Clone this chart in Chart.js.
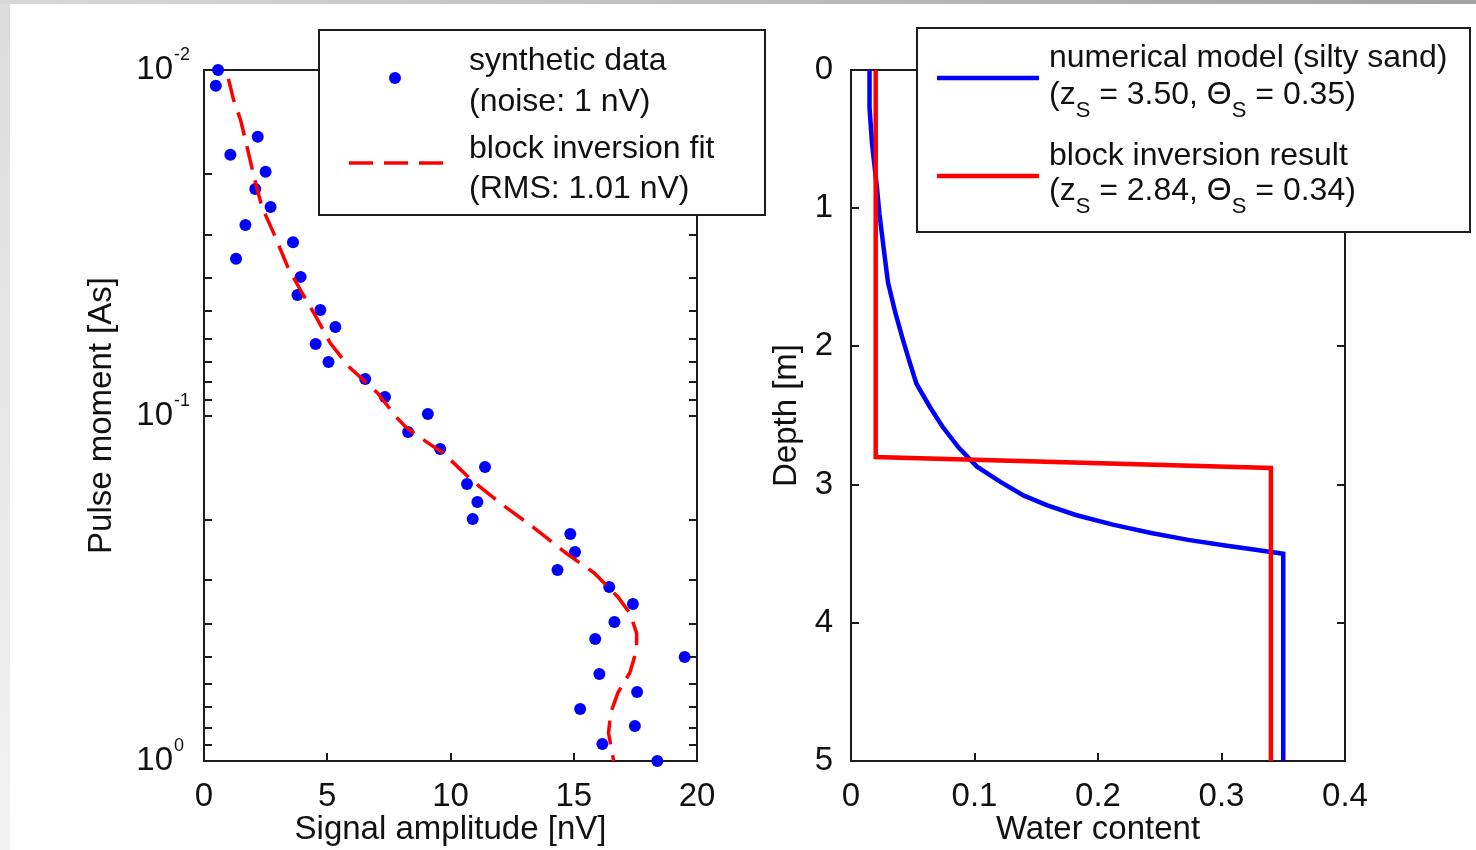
<!DOCTYPE html>
<html>
<head>
<meta charset="utf-8">
<title>SNMR block inversion</title>
<script src="https://cdn.jsdelivr.net/npm/chart.js@4.4.1/dist/chart.umd.min.js"></script>
<style>
  html, body { margin: 0; padding: 0; background: #fff; }
  #page { position: relative; width: 1476px; height: 850px; overflow: hidden; background: #fff; }
  #page canvas { position: absolute; left: 0; top: 0; }
  .edge-left { position: absolute; left: 0; top: 0; width: 10px; height: 850px; background: linear-gradient(to bottom, #dcdcdc, #f2f2f2); }
  .edge-top { position: absolute; left: 0; top: 0; width: 1476px; height: 4px; background: linear-gradient(to right, #d8d8d8, #a2a2a2); }
</style>
</head>
<body>
<div id="page">
  <div class="edge-left"></div>
  <div class="edge-top"></div>
  <canvas id="signalChart" width="1476" height="850"></canvas>
  <canvas id="profileChart" width="1476" height="850"></canvas>
</div>
<script>
const FONT = '"Liberation Sans", Arial, Helvetica, sans-serif';
Chart.defaults.font.family = FONT;
Chart.defaults.color = '#111';

// left panel: synthetic sounding curve (pulse moment [As] vs amplitude [nV])
const moments = [0.0100, 0.0111, 0.0156, 0.0176, 0.0197, 0.0221, 0.0249, 0.0281, 0.0315, 0.0352,
  0.0397, 0.0448, 0.0495, 0.0554, 0.0621, 0.0700, 0.0784, 0.0884, 0.0990, 0.1116,
  0.1250, 0.1410, 0.1579, 0.1780, 0.1993, 0.2203, 0.2484, 0.2801, 0.3136, 0.3512,
  0.3960, 0.4434, 0.5000, 0.5601, 0.6316, 0.7071, 0.7920, 0.8929, 1.0000];
const amplitudes = [0.57, 0.48, 2.18, 1.07, 2.50, 2.08, 2.70, 1.68, 3.61, 1.30,
  3.92, 3.79, 4.72, 5.33, 4.53, 5.05, 6.54, 7.34, 9.08, 8.28,
  9.58, 11.40, 10.67, 11.09, 10.90, 14.86, 15.05, 14.34, 16.44, 17.40,
  16.65, 15.87, 19.50, 16.04, 17.57, 15.26, 17.48, 16.16, 18.39];

const fitMoments = [0.0106, 0.0122, 0.0140, 0.0171, 0.0208, 0.0249, 0.0297, 0.0372, 0.0442, 0.0519,
  0.0617, 0.0724, 0.0861, 0.1010, 0.1083, 0.1202, 0.1285, 0.1538, 0.1792, 0.2103,
  0.2500, 0.2856, 0.3352, 0.3729, 0.4259, 0.4771, 0.5560, 0.6350, 0.7256, 0.8295, 1.0000];
const fitAmplitudes = [0.99, 1.20, 1.49, 1.78, 2.06, 2.35, 2.83, 3.40, 3.98, 4.55,
  5.12, 5.89, 7.04, 7.80, 8.20, 9.10, 9.71, 10.86, 12.01, 13.35,
  14.68, 15.83, 16.79, 17.27, 17.55, 17.55, 17.27, 16.79, 16.50, 16.41, 16.62];

const momentDecades = [0.01, 0.1, 1];
const momentExponents = ['-2', '-1', '0'];

// right panel: water content profiles
const modelDepth = [0, 0.27, 0.53, 0.85, 1.04, 1.33, 1.54, 1.76, 1.95, 2.10,
  2.27, 2.44, 2.58, 2.73, 2.87, 2.98, 3.08, 3.15, 3.22, 3.29,
  3.35, 3.40, 3.44, 3.47, 3.50, 5.00];
const modelWater = [0.015, 0.015, 0.017, 0.021, 0.023, 0.027, 0.030, 0.036, 0.042, 0.047,
  0.053, 0.064, 0.074, 0.087, 0.102, 0.121, 0.140, 0.159, 0.182, 0.212,
  0.243, 0.273, 0.303, 0.326, 0.350, 0.350];
const blockDepth = [0, 2.80, 2.88, 5];
const blockWater = [0.02, 0.02, 0.34, 0.34];

const toPoints = (xs, ys) => xs.map((x, i) => ({ x: x, y: ys[i] }));

// matlab style box with inward ticks on all four sides
const boxAxes = {
  id: 'boxAxes',
  beforeDatasetsDraw(chart, args, opts) {
    const { ctx, chartArea: a, scales } = chart;
    const len = 8;
    let yVals = scales.y.ticks.map(t => t.value);
    if (opts.logDecades) {
      yVals = [];
      opts.logDecades.slice(0, -1).forEach(d => {
        for (let k = 1; k <= 9; k++) yVals.push(k * d);
      });
    }
    ctx.save();
    ctx.strokeStyle = '#1c1c1c';
    ctx.lineWidth = 2;
    ctx.beginPath();
    scales.x.ticks.forEach(t => {
      const p = Math.round(scales.x.getPixelForValue(t.value));
      if (p <= a.left + 2 || p >= a.right - 2) return;
      ctx.moveTo(p, a.bottom); ctx.lineTo(p, a.bottom - len);
      ctx.moveTo(p, a.top); ctx.lineTo(p, a.top + len);
    });
    yVals.forEach(v => {
      const p = Math.round(scales.y.getPixelForValue(v));
      if (p <= a.top + 2 || p >= a.bottom - 2) return;
      ctx.moveTo(a.left, p); ctx.lineTo(a.left + len, p);
      ctx.moveTo(a.right, p); ctx.lineTo(a.right - len, p);
    });
    ctx.stroke();
    ctx.strokeRect(a.left, a.top, a.right - a.left, a.bottom - a.top);
    ctx.restore();
  }
};

// 10^n labels for the log axis
const decadeLabels = {
  id: 'decadeLabels',
  afterDraw(chart, args, opts) {
    if (!opts.values) return;
    const { ctx, chartArea: a, scales: { y } } = chart;
    ctx.save();
    ctx.fillStyle = '#111';
    opts.values.forEach((v, i) => {
      const py = y.getPixelForValue(v);
      const xr = a.left - 31;
      ctx.font = '33px ' + FONT;
      ctx.textAlign = 'right';
      ctx.textBaseline = 'middle';
      ctx.fillText('10', xr, py);
      ctx.font = '18px ' + FONT;
      ctx.textAlign = 'left';
      ctx.textBaseline = 'alphabetic';
      ctx.fillText(opts.exponents[i], xr + 1, py - 10);
    });
    ctx.restore();
  }
};

// boxed legend drawn on top of the axes, like the original figure
function drawRich(ctx, segs, x, y) {
  segs.forEach(s => {
    ctx.font = (s.sub ? '22px ' : '32px ') + FONT;
    ctx.fillText(s.t, x, y + (s.sub ? 13 : 0));
    x += ctx.measureText(s.t).width;
  });
}

const boxLegend = {
  id: 'boxLegend',
  afterDraw(chart, args, opts) {
    if (!opts.box) return;
    const { ctx } = chart;
    const [x0, y0, x1, y1] = opts.box;
    ctx.save();
    ctx.fillStyle = '#fff';
    ctx.fillRect(x0, y0, x1 - x0, y1 - y0);
    ctx.strokeStyle = '#1c1c1c';
    ctx.lineWidth = 2;
    ctx.strokeRect(x0, y0, x1 - x0, y1 - y0);
    opts.items.forEach(item => {
      const ds = chart.data.datasets[item.dataset];
      if (item.symbol === 'dot') {
        ctx.fillStyle = ds.backgroundColor;
        ctx.beginPath();
        ctx.arc(item.sx, item.sy, ds.pointRadius, 0, Math.PI * 2);
        ctx.fill();
      } else {
        ctx.strokeStyle = ds.borderColor;
        ctx.lineWidth = ds.borderWidth;
        ctx.setLineDash(ds.borderDash || []);
        ctx.beginPath();
        ctx.moveTo(item.sx, item.sy);
        ctx.lineTo(item.sx2, item.sy);
        ctx.stroke();
        ctx.setLineDash([]);
      }
      ctx.fillStyle = '#111';
      ctx.textAlign = 'left';
      ctx.textBaseline = 'alphabetic';
      item.lines.forEach((line, j) => drawRich(ctx, line, opts.textX, item.baselines[j]));
    });
    ctx.restore();
  }
};

const tickFont = { size: 33 };
const titleFont = { size: 33 };

new Chart(document.getElementById('signalChart'), {
  type: 'scatter',
  data: {
    datasets: [
      {
        label: 'synthetic data',
        data: toPoints(amplitudes, moments),
        backgroundColor: '#0000ff',
        pointRadius: 6,
        pointBorderWidth: 0,
        clip: false,
        order: 1,
      },
      {
        label: 'block inversion fit',
        data: toPoints(fitAmplitudes, fitMoments),
        showLine: true,
        borderColor: '#ff0000',
        borderWidth: 3.5,
        borderDash: [24, 11],
        pointRadius: 0,
        tension: 0,
        order: 0,
      },
    ],
  },
  options: {
    responsive: false,
    devicePixelRatio: 1,
    animation: false,
    layout: { padding: { left: 80, top: 70, right: 779, bottom: 0 } },
    scales: {
      x: {
        type: 'linear', position: 'bottom', min: 0, max: 20,
        grid: { display: false }, border: { display: false },
        ticks: { stepSize: 5, font: tickFont, padding: 8, maxRotation: 0, autoSkip: false },
        title: { display: true, text: 'Signal amplitude [nV]', font: titleFont, padding: { top: 0, bottom: 0 } },
        afterFit: s => { s.height = 89; },
      },
      y: {
        type: 'logarithmic', min: 0.01, max: 1, reverse: true,
        grid: { display: false }, border: { display: false },
        ticks: { display: false },
        title: { display: true, text: 'Pulse moment [As]', font: titleFont, padding: { top: 2, bottom: 0 } },
        afterFit: s => { s.width = 124; },
      },
    },
    plugins: {
      legend: { display: false },
      tooltip: { enabled: false },
      boxAxes: { logDecades: momentDecades },
      decadeLabels: { values: momentDecades, exponents: momentExponents },
      boxLegend: {
        box: [319, 30, 765, 215],
        textX: 469,
        items: [
          { dataset: 0, symbol: 'dot', sx: 395, sy: 78, baselines: [70, 111],
            lines: [[{ t: 'synthetic data' }], [{ t: '(noise: 1 nV)' }]] },
          { dataset: 1, symbol: 'line', sx: 349, sx2: 444, sy: 163, baselines: [158, 198],
            lines: [[{ t: 'block inversion fit' }], [{ t: '(RMS: 1.01 nV)' }]] },
        ],
      },
    },
  },
  plugins: [boxAxes, decadeLabels, boxLegend],
});

new Chart(document.getElementById('profileChart'), {
  type: 'scatter',
  data: {
    datasets: [
      {
        label: 'numerical model (silty sand)',
        data: toPoints(modelWater, modelDepth),
        showLine: true,
        borderColor: '#0000ff',
        borderWidth: 4.5,
        pointRadius: 0,
        tension: 0,
        order: 1,
      },
      {
        label: 'block inversion result',
        data: toPoints(blockWater, blockDepth),
        showLine: true,
        borderColor: '#ff0000',
        borderWidth: 4.5,
        pointRadius: 0,
        tension: 0,
        order: 0,
      },
    ],
  },
  options: {
    responsive: false,
    devicePixelRatio: 1,
    animation: false,
    layout: { padding: { left: 765, top: 70, right: 131, bottom: 0 } },
    scales: {
      x: {
        type: 'linear', position: 'bottom', min: 0, max: 0.4,
        grid: { display: false }, border: { display: false },
        ticks: { stepSize: 0.1, font: tickFont, padding: 8, maxRotation: 0, autoSkip: false,
          callback: v => String(+v.toFixed(1)) },
        title: { display: true, text: 'Water content', font: titleFont, padding: { top: 0, bottom: 0 } },
        afterFit: s => { s.height = 89; },
      },
      y: {
        type: 'linear', min: 0, max: 5, reverse: true,
        grid: { display: false }, border: { display: false },
        ticks: { stepSize: 1, font: tickFont, padding: 10, autoSkip: false },
        title: { display: true, text: 'Depth [m]', font: titleFont, padding: { top: 2, bottom: 0 } },
        afterFit: s => { s.width = 86; },
      },
    },
    plugins: {
      legend: { display: false },
      tooltip: { enabled: false },
      boxLegend: {
        box: [917, 28, 1470, 232],
        textX: 1049,
        items: [
          { dataset: 0, symbol: 'line', sx: 937, sx2: 1039, sy: 78, baselines: [67, 104],
            lines: [[{ t: 'numerical model (silty sand)' }],
                    [{ t: '(z' }, { t: 'S', sub: true }, { t: ' = 3.50, \u0398' }, { t: 'S', sub: true }, { t: ' = 0.35)' }]] },
          { dataset: 1, symbol: 'line', sx: 937, sx2: 1039, sy: 176, baselines: [165, 200],
            lines: [[{ t: 'block inversion result' }],
                    [{ t: '(z' }, { t: 'S', sub: true }, { t: ' = 2.84, \u0398' }, { t: 'S', sub: true }, { t: ' = 0.34)' }]] },
        ],
      },
    },
  },
  plugins: [boxAxes, boxLegend],
});
</script>
</body>
</html>
